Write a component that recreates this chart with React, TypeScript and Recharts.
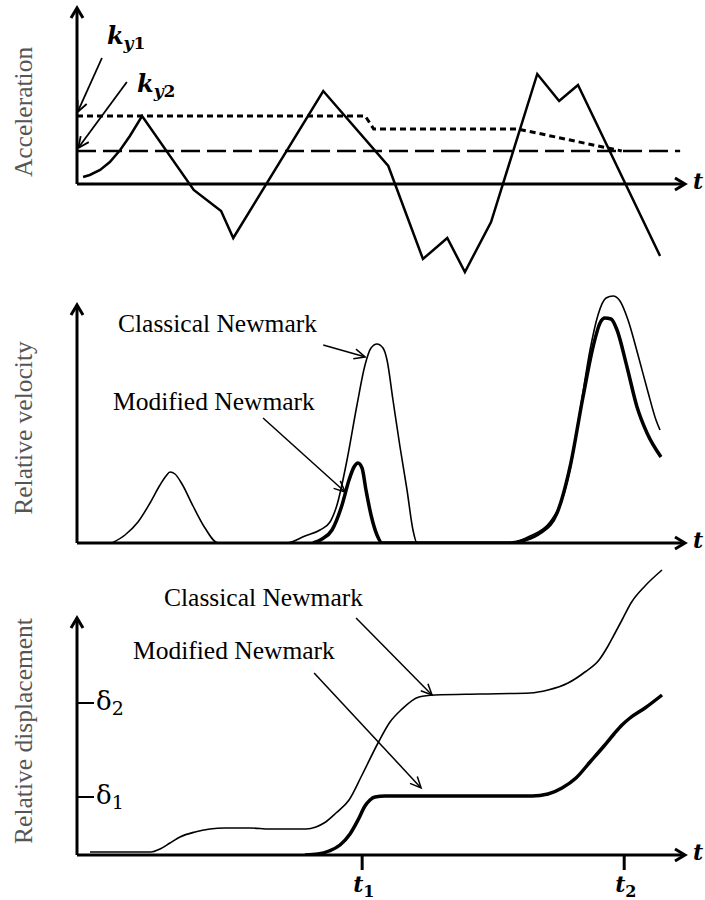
import React from 'react';
import { LineChart, Line, XAxis, YAxis, ReferenceLine, ReferenceDot } from 'recharts';

const SERIF = '"Liberation Serif", "Times New Roman", serif';
const MATH = '"DejaVu Serif", serif';
const TITLE_GRAY = '#555555';

type Pt = [number, number];

// Shared time axis (arbitrary units)
const T_MAX = 10;
const T1 = 4.69;
const T2 = 9.0;
const TIME_TICKS = [T1, T2];
const TIME_TICK_SUBS = ['1', '2'];

// Panel 1: ground acceleration and yield accelerations
const accelPts: Pt[] = [
  [0.1, 0.07], [0.21, 0.09], [0.38, 0.14], [0.54, 0.22], [0.71, 0.34], [0.87, 0.48],
  [1.07, 0.68], [1.92, -0.06], [2.37, -0.27], [2.57, -0.54], [4.05, 0.93], [5.12, 0.18],
  [5.69, -0.75], [6.09, -0.54], [6.38, -0.88], [6.81, -0.38], [7.57, 1.1], [7.93, 0.83],
  [8.24, 0.99], [9.59, -0.72],
];
const ky1Pts: Pt[] = [[0, 0.68], [4.74, 0.68], [4.88, 0.55], [7.25, 0.55], [8.96, 0.33]];
const ky2Pts: Pt[] = [[0, 0.33], [9.92, 0.33]];

// Panel 2: relative velocity
const velClassical: Pt[] = [
  [0.576, 0], [0.789, 0.08], [1.003, 0.21], [1.201, 0.4], [1.365, 0.58], [1.464, 0.67],
  [1.53, 0.71], [1.612, 0.69], [1.727, 0.59], [1.908, 0.37], [2.105, 0.15], [2.319, 0],
  [3.454, 0], [3.75, 0.07], [3.997, 0.13], [4.161, 0.21], [4.276, 0.38], [4.441, 0.83],
  [4.605, 1.38], [4.737, 1.78], [4.836, 1.95], [4.934, 1.99], [5.033, 1.95], [5.099, 1.83],
  [5.197, 1.43], [5.313, 0.96], [5.428, 0.53], [5.526, 0.13], [5.592, 0],
  [7.122, 0], [7.451, 0.07], [7.78, 0.21], [7.977, 0.43], [8.141, 0.83], [8.289, 1.38],
  [8.438, 1.93], [8.569, 2.28], [8.701, 2.45], [8.816, 2.47], [8.931, 2.42], [9.063, 2.23],
  [9.227, 1.88], [9.391, 1.51], [9.523, 1.23], [9.589, 1.13],
];
const velModified: Pt[] = [
  [3.882, 0], [4.03, 0.04], [4.194, 0.13], [4.359, 0.38], [4.474, 0.63], [4.556, 0.76],
  [4.622, 0.8], [4.688, 0.75], [4.753, 0.53], [4.836, 0.28], [4.934, 0.08], [5.016, 0],
  [7.122, 0], [7.368, 0.03], [7.615, 0.1], [7.895, 0.3], [8.109, 0.76], [8.322, 1.46],
  [8.487, 1.96], [8.602, 2.2], [8.684, 2.25], [8.783, 2.24], [8.882, 2.13], [9.046, 1.76],
  [9.211, 1.36], [9.375, 1.1], [9.605, 0.86],
];

// Panel 3: relative displacement
const DELTA1 = 0.58;
const DELTA2 = 1.52;
const DELTA_TICKS = [DELTA1, DELTA2];
const DELTA_SUBS = ['1', '2'];

const dispClassical: Pt[] = [
  [0.214, 0.03], [1.217, 0.03], [1.365, 0.06], [1.53, 0.12], [1.694, 0.18], [1.941, 0.23],
  [2.434, 0.27], [2.845, 0.27], [3.174, 0.26], [3.766, 0.26], [3.931, 0.28], [4.063, 0.32],
  [4.26, 0.42], [4.474, 0.55], [4.688, 0.8], [4.951, 1.12], [5.148, 1.33], [5.329, 1.45],
  [5.625, 1.58], [5.888, 1.6], [6.628, 1.61], [7.451, 1.62], [7.747, 1.65], [8.076, 1.72],
  [8.355, 1.83], [8.586, 1.95], [8.734, 2.09], [8.832, 2.2], [8.964, 2.35], [9.112, 2.52],
  [9.342, 2.69], [9.622, 2.85],
];
const dispModified: Pt[] = [
  [3.75, 0], [3.964, 0.01], [4.145, 0.04], [4.326, 0.1], [4.49, 0.21], [4.622, 0.35],
  [4.737, 0.49], [4.819, 0.55], [4.901, 0.58], [5.066, 0.59], [6.299, 0.59], [7.484, 0.59],
  [7.747, 0.61], [7.977, 0.67], [8.207, 0.77], [8.438, 0.93], [8.668, 1.09], [8.832, 1.21],
  [8.964, 1.3], [9.095, 1.37], [9.342, 1.47], [9.622, 1.6],
];

const rows = (pts: Pt[]) => pts.map(([t, y]) => ({ t, y }));

// Straight line with an open V arrowhead at its second end
const arrowShape = (head: number, half: number, width: number) => (p: any) => {
  const { x1, y1, x2, y2 } = p;
  if ([x1, y1, x2, y2].some((v) => typeof v !== 'number' || Number.isNaN(v))) return <g />;
  const dx = x2 - x1;
  const dy = y2 - y1;
  const len = Math.hypot(dx, dy) || 1;
  const ux = dx / len;
  const uy = dy / len;
  const bx = x2 - ux * head;
  const by = y2 - uy * head;
  const nx = -uy * half;
  const ny = ux * half;
  return (
    <g>
      <line x1={x1} y1={y1} x2={x2 - ux * 1.5} y2={y2 - uy * 1.5} stroke="#000" strokeWidth={width} />
      <polyline
        points={`${bx + nx},${by + ny} ${x2},${y2} ${bx - nx},${by - ny}`}
        fill="none"
        stroke="#000"
        strokeWidth={width}
        strokeLinejoin="miter"
      />
    </g>
  );
};

const axisArrow = arrowShape(10, 6, 3);
const noteArrow = arrowShape(11, 5, 1.5);
const kArrow = arrowShape(11, 5, 1.8);

const textDot = (render: (x: number, y: number) => React.ReactElement) => (p: any) =>
  typeof p.cx === 'number' && typeof p.cy === 'number' ? render(p.cx, p.cy) : <g />;

const axisTitle = (label: string) =>
  textDot((x, y) => (
    <text
      x={x}
      y={y}
      transform={`rotate(-90 ${x} ${y})`}
      textAnchor="middle"
      fontFamily={SERIF}
      fontSize={25.5}
      fill={TITLE_GRAY}
    >
      {label}
    </text>
  ));

const curveName = (label: string) =>
  textDot((x, y) => (
    <text x={x} y={y} fontFamily={SERIF} fontSize={25.5} fill="#000">
      {label}
    </text>
  ));

const tLabel = textDot((x, y) => (
  <text x={x} y={y} fontFamily={MATH} fontSize={22} fontWeight="bold" fontStyle="italic" fill="#000">
    t
  </text>
));

const kLabel = (sub: string) =>
  textDot((x, y) => (
    <text x={x} y={y} fontFamily={MATH} fontSize={24} fontWeight="bold" fill="#000">
      <tspan fontStyle="italic">k</tspan>
      <tspan fontStyle="italic" fontSize={17} dy={5}>y</tspan>
      <tspan fontSize={17}>{sub}</tspan>
    </text>
  ));

const TimeTick = (p: any) => {
  const { x, y, index } = p;
  return (
    <text x={x - 9} y={y + 20} fontFamily={MATH} fontSize={22} fontWeight="bold" fill="#000">
      <tspan fontStyle="italic">t</tspan>
      <tspan fontSize={16} dy={5}>{TIME_TICK_SUBS[index] ?? ''}</tspan>
    </text>
  );
};

const DeltaTick = (p: any) => {
  const { x, y, index } = p;
  return (
    <text x={x} y={y + 7} fontFamily={MATH} fontSize={26} fill="#000">
      δ<tspan fontSize={19} dy={5}>{DELTA_SUBS[index] ?? ''}</tspan>
    </text>
  );
};

const MARGIN_X = { left: 77, right: 20 };

function AccelerationPanel() {
  return (
    <LineChart width={705} height={290} margin={{ top: 5, bottom: 5, ...MARGIN_X }}>
      <XAxis dataKey="t" type="number" domain={[0, T_MAX]} allowDataOverflow hide />
      <YAxis type="number" domain={[-1.01, 1.79]} allowDataOverflow hide />
      <Line data={rows(ky1Pts)} dataKey="y" type="linear" stroke="#000" strokeWidth={3}
        strokeDasharray="6 4" dot={false} activeDot={false} isAnimationActive={false} />
      <Line data={rows(ky2Pts)} dataKey="y" type="linear" stroke="#000" strokeWidth={2.5}
        strokeDasharray="19 7" dot={false} activeDot={false} isAnimationActive={false} />
      <Line data={rows(accelPts)} dataKey="y" type="linear" stroke="#000" strokeWidth={2.5}
        dot={false} activeDot={false} isAnimationActive={false} />
      <ReferenceLine segment={[{ x: 0, y: 0 }, { x: T_MAX, y: 0 }]} ifOverflow="visible" shape={axisArrow} />
      <ReferenceLine segment={[{ x: 0, y: 0 }, { x: 0, y: 1.76 }]} ifOverflow="visible" shape={axisArrow} />
      <ReferenceLine segment={[{ x: 0.41, y: 1.26 }, { x: 0.01, y: 0.72 }]} ifOverflow="visible" shape={kArrow} />
      <ReferenceLine segment={[{ x: 0.82, y: 1.02 }, { x: 0.02, y: 0.36 }]} ifOverflow="visible" shape={kArrow} />
      <ReferenceDot x={0.493} y={1.4} ifOverflow="visible" shape={kLabel('1')} />
      <ReferenceDot x={0.987} y={0.92} ifOverflow="visible" shape={kLabel('2')} />
      <ReferenceDot x={10.13} y={-0.05} ifOverflow="visible" shape={tLabel} />
      <ReferenceDot x={-0.74} y={0.72} ifOverflow="visible" shape={axisTitle('Acceleration')} />
    </LineChart>
  );
}

function VelocityPanel() {
  return (
    <LineChart width={705} height={270} margin={{ top: 3, bottom: 17, ...MARGIN_X }}>
      <XAxis dataKey="t" type="number" domain={[0, T_MAX]} allowDataOverflow hide />
      <YAxis type="number" domain={[0, 2.5]} allowDataOverflow hide />
      <Line data={rows(velClassical)} dataKey="y" type="monotone" stroke="#000" strokeWidth={1.6}
        dot={false} activeDot={false} isAnimationActive={false} />
      <Line data={rows(velModified)} dataKey="y" type="monotone" stroke="#000" strokeWidth={3.5}
        dot={false} activeDot={false} isAnimationActive={false} />
      <ReferenceLine segment={[{ x: 0, y: 0 }, { x: T_MAX, y: 0 }]} ifOverflow="visible" shape={axisArrow} />
      <ReferenceLine segment={[{ x: 0, y: 0 }, { x: 0, y: 2.38 }]} ifOverflow="visible" shape={axisArrow} />
      <ReferenceLine segment={[{ x: 4.05, y: 1.98 }, { x: 4.74, y: 1.86 }]} ifOverflow="visible" shape={noteArrow} />
      <ReferenceLine segment={[{ x: 3.06, y: 1.25 }, { x: 4.41, y: 0.51 }]} ifOverflow="visible" shape={noteArrow} />
      <ReferenceDot x={0.674} y={2.11} ifOverflow="visible" shape={curveName('Classical Newmark')} />
      <ReferenceDot x={0.592} y={1.33} ifOverflow="visible" shape={curveName('Modified Newmark')} />
      <ReferenceDot x={10.13} y={-0.05} ifOverflow="visible" shape={tLabel} />
      <ReferenceDot x={-0.74} y={1.15} ifOverflow="visible" shape={axisTitle('Relative velocity')} />
    </LineChart>
  );
}

function DisplacementPanel() {
  return (
    <LineChart width={705} height={340} margin={{ top: 5, bottom: 5, ...MARGIN_X }}>
      <XAxis
        dataKey="t"
        type="number"
        domain={[0, T_MAX]}
        allowDataOverflow
        ticks={TIME_TICKS}
        interval={0}
        height={40}
        axisLine={false}
        tickSize={15}
        tickLine={{ stroke: '#000', strokeWidth: 3 }}
        tick={TimeTick}
      />
      <YAxis
        type="number"
        domain={[0, 2.9]}
        allowDataOverflow
        ticks={DELTA_TICKS}
        interval={0}
        mirror
        axisLine={false}
        tickSize={17}
        tickLine={{ stroke: '#000', strokeWidth: 2 }}
        tick={DeltaTick}
      />
      <Line data={rows(dispClassical)} dataKey="y" type="monotone" stroke="#000" strokeWidth={1.6}
        dot={false} activeDot={false} isAnimationActive={false} />
      <Line data={rows(dispModified)} dataKey="y" type="monotone" stroke="#000" strokeWidth={3.5}
        dot={false} activeDot={false} isAnimationActive={false} />
      <ReferenceLine segment={[{ x: 0, y: 0 }, { x: T_MAX, y: 0 }]} ifOverflow="visible" shape={axisArrow} />
      <ReferenceLine segment={[{ x: 0, y: 0 }, { x: 0, y: 2.37 }]} ifOverflow="visible" shape={axisArrow} />
      <ReferenceLine segment={[{ x: 4.59, y: 2.37 }, { x: 5.84, y: 1.6 }]} ifOverflow="visible" shape={noteArrow} />
      <ReferenceLine segment={[{ x: 3.9, y: 1.82 }, { x: 5.66, y: 0.67 }]} ifOverflow="visible" shape={noteArrow} />
      <ReferenceDot x={1.431} y={2.49} ifOverflow="visible" shape={curveName('Classical Newmark')} />
      <ReferenceDot x={0.921} y={1.96} ifOverflow="visible" shape={curveName('Modified Newmark')} />
      <ReferenceDot x={10.13} y={-0.05} ifOverflow="visible" shape={tLabel} />
      <ReferenceDot x={-0.74} y={1.24} ifOverflow="visible" shape={axisTitle('Relative displacement')} />
    </LineChart>
  );
}

export default function App() {
  return (
    <div style={{ position: 'absolute', left: 0, top: 0, width: 705, height: 900, background: '#fff' }}>
      <div style={{ position: 'absolute', left: 0, top: 0 }}>
        <AccelerationPanel />
      </div>
      <div style={{ position: 'absolute', left: 0, top: 290 }}>
        <VelocityPanel />
      </div>
      <div style={{ position: 'absolute', left: 0, top: 560 }}>
        <DisplacementPanel />
      </div>
    </div>
  );
}
